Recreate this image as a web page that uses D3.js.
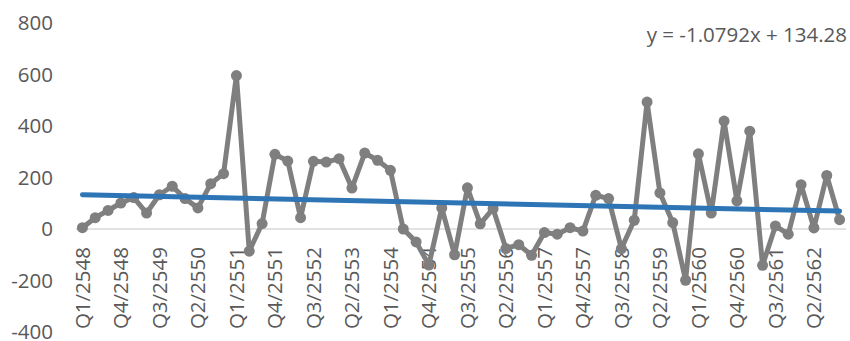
<!DOCTYPE html>
<html><head><meta charset="utf-8">
<script src="https://cdn.jsdelivr.net/npm/d3@7"></script>
<style>
body{margin:0;background:#fff;}
text{font-family:"Open Sans","Noto Sans",sans-serif;fill:#595959;}
</style></head>
<body><svg id="c" width="850" height="341"></svg>
<script>
const years = [2548,2549,2550,2551,2552,2553,2554,2555,2556,2557,2558,2559,2560,2561,2562];
const quarters = ["Q1","Q2","Q3","Q4"];
const categories = [];
years.forEach(y => quarters.forEach(q => categories.push(q + "/" + y)));
const values = [5,44,72,101,122,62,133,166,118,82,
  176,215,596,-86,21,290,264,44,263,260,
  273,159,295,267,228,0,-50,-140,82,-100,
  160,20,79,-76,-61,-102,-14,-20,5,-8,
  131,118,-76,34,493,140,25,-199,292,62,
  419,109,380,-141,12,-20,172,4,208,36];
const yTicks = [-400,-200,0,200,400,600,800];
const trendSlope = -1.0792, trendIntercept = 134.28;
const trendLabel = "y = -1.0792x + 134.28";

const svg = d3.select("#c");
const x = d3.scaleBand().domain(categories).range([76, 846]);
const y = d3.scaleLinear().domain([-400, 800]).range([332, 23]);
const cx = c => x(c) + x.bandwidth()/2;

// y axis labels
svg.append("g").selectAll("text").data(yTicks).join("text")
  .attr("x", 53).attr("y", d => y(d)).attr("dy", "0.36em")
  .attr("text-anchor", "end").style("font-size", "20.5px").text(d => d);

// zero line
svg.append("line").attr("x1", 76).attr("x2", 846)
  .attr("y1", y(0)).attr("y2", y(0)).attr("stroke", "#D9D9D9").attr("stroke-width", 1.5);

// x labels
svg.append("g").selectAll("text").data(categories.filter((d,i) => i % 3 === 0)).join("text")
  .attr("transform", d => `translate(${cx(d)},${y(0) + 18}) rotate(-90)`)
  .attr("dy", "0.36em").attr("text-anchor", "end").style("font-size", "20.5px").text(d => d);

// series line
const line = d3.line().x((d,i) => cx(categories[i])).y(d => y(d));
svg.append("path").datum(values).attr("d", line).attr("fill", "none")
  .attr("stroke", "#7F7F7F").attr("stroke-width", 5).attr("stroke-linejoin", "round");
svg.append("g").selectAll("circle").data(values).join("circle")
  .attr("cx", (d,i) => cx(categories[i])).attr("cy", d => y(d)).attr("r", 5.5).attr("fill", "#7F7F7F");

// trendline
const n = values.length;
const tl = [1, n].map(k => ({k, v: trendSlope * k + trendIntercept}));
svg.append("path").datum(tl)
  .attr("d", d3.line().x(d => cx(categories[d.k - 1])).y(d => y(d.v)))
  .attr("stroke", "#2E75B6").attr("stroke-width", 5).attr("stroke-linecap", "round").attr("fill", "none");

svg.append("text").attr("x", 847).attr("y", 35).attr("dy", "0.36em")
  .attr("text-anchor", "end").style("font-size", "20.5px").text(trendLabel);
</script></body></html>
